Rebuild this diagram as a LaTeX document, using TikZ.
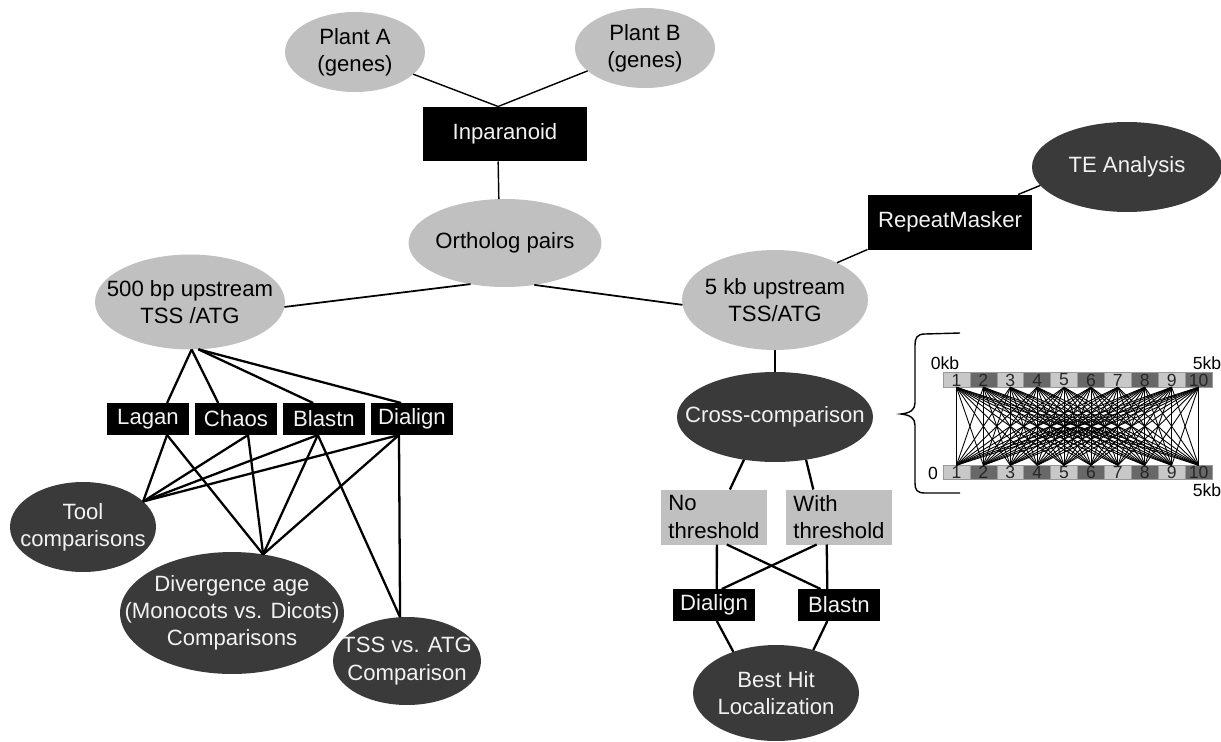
\documentclass[tikz,border=0pt]{standalone}
\usepackage{fontspec}
\setmainfont{Liberation Sans}
\usetikzlibrary{positioning,shapes.geometric}
\definecolor{cpale}{RGB}{192,192,192}
\definecolor{cdark}{RGB}{58,58,58}
\definecolor{seglite}{RGB}{200,200,200}
\definecolor{segdark}{RGB}{104,104,104}

\begin{document}
\begin{tikzpicture}[x=0.02cm,y=-0.02cm,
        every node/.style={inner sep=0pt,outer sep=0pt,font=\fontsize{12.6}{15.5}\selectfont},
        pale/.style={ellipse,fill=cpale},
        dark/.style={ellipse,fill=cdark},
        lb/.style={align=center,text=black},
        lw/.style={align=center,text=white!95!black},
        blk/.style={rectangle,fill=black,text=white!95!black},
        prog/.style={blk,minimum width=1.64cm,minimum height=0.64cm},
        gry/.style={rectangle,fill=cpale,align=left,minimum width=2.12cm,minimum height=1.1cm},
        seg/.style={rectangle,draw=gray!80,line width=0.3pt,minimum width=0.538cm,minimum height=0.29cm,text=black!85,font=\fontsize{10}{10}\selectfont},
        kb/.style={font=\fontsize{10}{11}\selectfont},
        thinw/.style={line width=0.8pt},
        wire/.style={line width=1.3pt}]
    \useasboundingbox (0,0) rectangle (1221,741);
    \node[pale,minimum width=2.8cm,minimum height=1.6cm,label={[lb]center:{Plant A\\(genes)}}] (pa) at (355,52) {};
    \node[pale,minimum width=2.8cm,minimum height=1.6cm,label={[lb]center:{Plant B\\(genes)}}] (pb) at (645,48) {};
    \node[blk,minimum width=3.3cm,minimum height=1.1cm] (inp) at (505,134) {Inparanoid};
    \node[pale,minimum width=3.86cm,minimum height=1.76cm,label={[lb]center:{Ortholog pairs}}] (orth) at (505,243) {};
    \node[pale,minimum width=3.8cm,minimum height=1.9cm,label={[lb]center:{500 bp upstream\\TSS /ATG}}] (up5) at (190,302) {};
    \node[pale,minimum width=3.72cm,minimum height=2cm,label={[lb]center:{5 kb upstream\\TSS/ATG}}] (kb5) at (775,300) {};
    \node[blk,minimum width=3.3cm,minimum height=1.1cm] (rm) at (950,222) {RepeatMasker};
    \node[dark,minimum width=3.8cm,minimum height=1.8cm,label={[lw]center:{TE Analysis}}] (te) at (1127,167) {};
    \node[prog] (lag) at (148,419) {Lagan};
    \node[prog,right=0.12cm of lag] (cha) {Chaos};
    \node[prog,right=0.12cm of cha] (bla) {Blastn};
    \node[prog,right=0.12cm of bla] (dia) {Dialign};
    \node[dark,minimum width=2.92cm,minimum height=1.8cm,label={[lw]center:{Tool\\comparisons}}] (tool) at (83,527) {};
    \node[dark,minimum width=4.48cm,minimum height=2.44cm,label={[lw]center:{Divergence age\\(Monocots vs. Dicots)\\Comparisons}}] (div) at (232,613) {};
    \node[dark,minimum width=2.96cm,minimum height=1.76cm,label={[lw]center:{TSS vs. ATG\\Comparison}}] (tss) at (407,661) {};
    \node[dark,minimum width=3.92cm,minimum height=1.8cm,label={[lw]center:{Cross-comparison}}] (cross) at (775,417) {};
    \node[gry] (nth) at (714,517) {No\\threshold};
    \node[gry,right=0.38cm of nth] (wth) {With\\threshold};
    \node[prog] (dia2) at (714,605) {Dialign};
    \node[prog,right=0.86cm of dia2] (bla2) {Blastn};
    \node[dark,minimum width=3.32cm,minimum height=1.92cm,label={[lw]center:{Best Hit\\Localization}}] (best) at (776,693) {};

    \draw[thinw] (pa) -- (inp.104);
    \draw[thinw] (pb) -- (inp.104);
    \draw[thinw] (inp.-104) -- (orth.98);
    \draw[line width=1pt] (orth.-130) -- (up5.-3);
    \draw[line width=1pt] (orth.-55) -- (kb5.183);
    \draw[thinw] (kb5.31) -- (rm.south west);
    \draw[thinw] (rm.22) -- (te.192);
    \draw[wire] (kb5) -- (cross);

    \foreach \b/\a in {lag/40,cha/138} \draw[wire] (up5.-88) -- (\b.\a);
    \foreach \b/\a in {bla/124,dia/124} \draw[wire] (up5.-80) -- (\b.\a);
    \foreach \b/\a in {lag/-40,cha/-53,bla/-111,dia/-129} {
        \draw[wire] (\b.\a) -- (tool.23);
        \draw[wire] (\b.\a) -- (div.62);
    }
    \foreach \b/\a in {bla/-111,dia/-129} \draw[wire] (\b.\a) -- (tss.99);

    \draw[wire] (cross.-126) -- (nth.60);
    \draw[wire] (cross.-54) -- (wth.133);
    \draw[wire] (nth.-84) -- (dia2.80);
    \draw[wire] (nth.-65) -- (bla2.139);
    \draw[wire] (wth.-129) -- (dia2.64);
    \draw[wire] (wth.-114) -- (bla2.126);
    \draw[wire] (dia2.-80) -- (best.136);
    \draw[wire] (bla2.-126) -- (best.49);

    \foreach \i/\c in {1/seglite,2/segdark,3/seglite,4/segdark,5/seglite,6/segdark,7/seglite,8/segdark,9/seglite,10/segdark} {
        \node[seg,fill=\c] (t\i) at ({929.55+\i*26.9},380) {\i};
        \node[seg,fill=\c] (b\i) at ({929.55+\i*26.9},472.5) {\i};
    }
    \foreach \i in {1,...,10}
        \foreach \j in {1,...,10}
            \draw[line width=0.5pt] (t\i.south) -- (b\j.north);
    \node[kb] (k0) at (945,363) {0kb};
    \node[kb] (k5) at (1207,363) {5kb};
    \node[kb] (z0) at (933,473) {0};
    \node[kb] (z5) at (1207,490) {5kb};

    \draw[line width=0.8pt] (960,333) -- (925,334) .. controls (917,334) and (915,338) .. (915,345)
        -- (915,403) .. controls (915,410) and (910,413) .. (901,414)
        .. controls (910,415) and (915,418) .. (915,425) -- (915,483)
        .. controls (915,490) and (917,493) .. (925,493) -- (960,493);
\end{tikzpicture}
\end{document}
